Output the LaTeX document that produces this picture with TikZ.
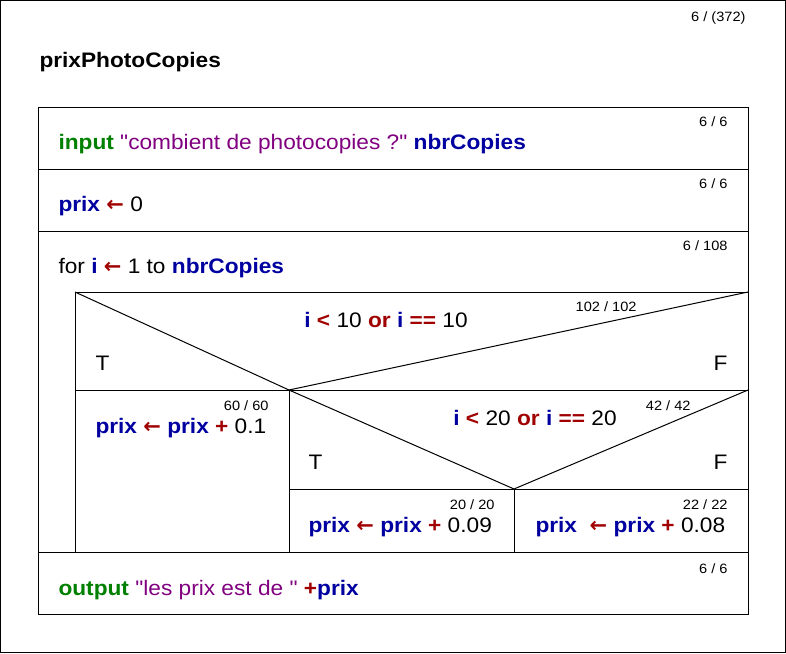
\documentclass[tikz,border=0pt]{standalone}
\usepackage{fontspec}
\setmainfont{Liberation Sans}[FakeStretch=1.08,Ligatures=TeXOff]
\newfontfamily\arrowfont{DejaVu Sans}
\usetikzlibrary{positioning}

\definecolor{kwgreen}{RGB}{0,128,0}
\definecolor{strpurple}{RGB}{128,0,128}
\definecolor{varblue}{RGB}{0,0,160}
\definecolor{opred}{RGB}{160,0,0}

\newcommand\kwd[1]{\textcolor{kwgreen}{\textbf{#1}}}
\newcommand\vnm[1]{\textcolor{varblue}{\textbf{#1}}}
\newcommand\opr[1]{\textcolor{opred}{\textbf{#1}}}
\newcommand\strg[1]{\textcolor{strpurple}{#1}}
\newcommand\assign{\textcolor{opred}{{\arrowfont\bfseries ←}}}

\begin{document}
\begin{tikzpicture}[x=1pt,y=-1pt,line width=1pt,
    code/.style={anchor=base west, inner sep=0pt, font=\fontsize{21}{25}\selectfont},
    cond/.style={anchor=base, inner sep=0pt, font=\fontsize{21}{25}\selectfont},
    cnt/.style={anchor=base east, inner sep=0pt, font=\fontsize{13.5}{16}\selectfont}]
                \useasboundingbox (0,0) rectangle (786,653);
                \draw (0.5,0.5) rectangle (785.5,652.5);
                \node[cnt] (total) at (746,21) {6 / (372)};
                \node[code] (title) at (39,67) {\textbf{prixPhotoCopies}};
                % blocks
                \draw (38,107) rectangle (748,614);
                \draw (38,169) -- (748,169);
                \draw (38,231) -- (748,231);
                \draw (38,552) -- (748,552);
                \coordinate (ifA) at (75,292);
                \coordinate (ifB) at (748,292);
                \coordinate (ifC) at (289,390);
                \coordinate (ifD) at (514,489);
                \draw (ifA) -- (ifB);
                \draw (ifA) -- (75,552);
                \draw (75,390) -- (748,390);
                \draw (ifC) -- (289,552);
                \draw (289,489) -- (748,489);
                \draw (ifD) -- (514,552);
                \draw (ifA) -- (ifC) -- (ifB);
                \draw (ifC) -- (ifD) -- (748,390);
                % texts
                \node[cnt] (c1) at (728,126) {6 / 6};
                \node[code] (t1) at (58,149) {\kwd{input} \strg{"combient de photocopies ?"} \vnm{nbrCopies}};
                \node[cnt] (c2) at (728,188) {6 / 6};
                \node[code] (t2) at (58,211) {\vnm{prix} \assign{} 0};
                \node[cnt] (c3) at (728,250) {6 / 108};
                \node[code] (t3) at (58,273) {for \vnm{i} \assign{} 1 to \vnm{nbrCopies}};
                \node[cond] (if1) at (386,327) {\vnm{i} \opr{<} 10 \opr{or} \vnm{i} \opr{==} 10};
                \node[cnt] (c4) at (637,311) {102 / 102};
                \node[code] (T1) at (95,370) {T};
                \node[code,anchor=base east] (F1) at (728,370) {F};
                \node[cnt] (c5) at (269,410) {60 / 60};
                \node[code] (t5) at (95,433) {\vnm{prix} \assign{} \vnm{prix} \opr{+} 0.1};
                \node[cond] (if2) at (535,425) {\vnm{i} \opr{<} 20 \opr{or} \vnm{i} \opr{==} 20};
                \node[cnt] (c6) at (691,410) {42 / 42};
                \node[code] (T2) at (308,469) {T};
                \node[code,anchor=base east] (F2) at (728,469) {F};
                \node[cnt] (c7) at (495,509) {20 / 20};
                \node[code] (t7) at (308,532) {\vnm{prix} \assign{} \vnm{prix} \opr{+} 0.09};
                \node[cnt] (c8) at (728,509) {22 / 22};
                \node[code] (t8) at (535,532) {\vnm{prix}\ \ \assign{} \vnm{prix} \opr{+} 0.08};
                \node[cnt] (c9) at (728,573) {6 / 6};
                \node[code] (t9) at (58,595) {\kwd{output} \strg{"les prix est de "} \opr{+}\vnm{prix}};
            \end{tikzpicture}
\end{document}
